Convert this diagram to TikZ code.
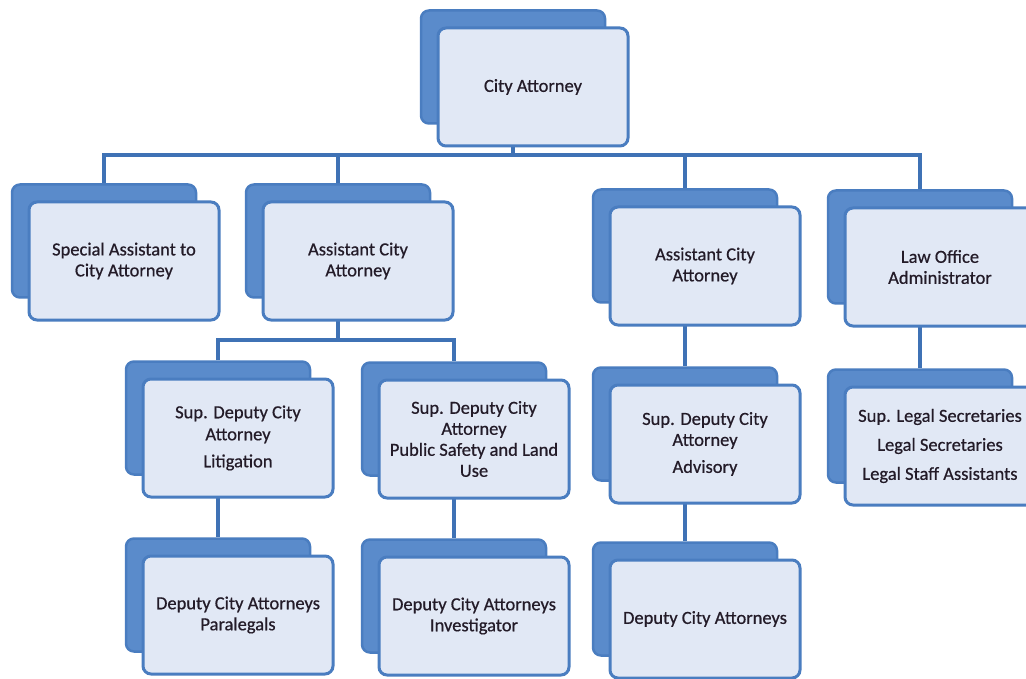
\documentclass[tikz,border=0pt]{standalone}
\usepackage{fontspec}
\setmainfont{Carlito}[FakeBold=0.6]
\usetikzlibrary{backgrounds}
\definecolor{backblue}{HTML}{5A8BCB}
\definecolor{edgeblue}{HTML}{4A7DC0}
\definecolor{frontfill}{HTML}{E1E8F5}
\definecolor{linkblue}{HTML}{3F72B5}
\definecolor{txt}{HTML}{231B28}
\begin{document}
\begin{tikzpicture}[x=1pt,y=-1pt,
  backbox/.style={draw=edgeblue, fill=backblue, line width=2.5pt, rounded corners=8pt,
    minimum width=184pt, minimum height=113pt, inner sep=0pt},
  frontbox/.style={draw=edgeblue, fill=frontfill, line width=3pt, rounded corners=8pt,
    minimum width=190pt, minimum height=118pt, align=center, text=txt,
    font=\fontsize{18.5}{21}\selectfont, inner sep=2pt},
  conn/.style={draw=linkblue, line width=3.3pt}]
\useasboundingbox (0,0) rectangle (1026,679);

% back boxes
\node[backbox] (CAb)   at (513,67) {};
\node[backbox] (SAb)   at (104,241) {};
\node[backbox] (ACA1b) at (338,241) {};
\node[backbox] (ACA2b) at (685,246) {};
\node[backbox] (LOAb)  at (920,247) {};
\node[backbox] (SDLb)  at (218,418) {};
\node[backbox] (SDPb)  at (454,419) {};
\node[backbox] (SDAb)  at (685,424) {};
\node[backbox] (SLSb)  at (920,426) {};
\node[backbox] (DCPb)  at (218,595) {};
\node[backbox] (DCIb)  at (454,596) {};
\node[backbox] (DCAb)  at (685,599) {};

% front boxes
\node[frontbox] (CA)   at (533,87)  {City Attorney};
\node[frontbox] (SA)   at (124,261) {Special Assistant to\\City Attorney};
\node[frontbox] (ACA1) at (358,261) {Assistant City\\Attorney};
\node[frontbox] (ACA2) at (705,266) {Assistant City\\Attorney};
\node[frontbox] (LOA)  at (940,267) {Law Office\\Administrator};
\node[frontbox] (SDL)  at (238,438) {Sup. Deputy City\\[1pt]Attorney\\[6pt]Litigation};
\node[frontbox] (SDP)  at (474,439) {Sup. Deputy City\\Attorney\\Public Safety and Land\\Use};
\node[frontbox] (SDA)  at (705,444) {Sup. Deputy City\\Attorney\\[6pt]Advisory};
\node[frontbox] (SLS)  at (940,446) {Sup. Legal Secretaries\\[8pt]Legal Secretaries\\[8pt]Legal Staff Assistants};
\node[frontbox] (DCP)  at (238,615) {Deputy City Attorneys\\Paralegals};
\node[frontbox] (DCI)  at (474,616) {Deputy City Attorneys\\Investigator};
\node[frontbox] (DCA)  at (705,619) {Deputy City Attorneys};

\coordinate (bus1) at (0,155);
\coordinate (bus2) at (0,340);

\begin{scope}[on background layer]
\fill[white] (0,0) rectangle (1026,679);
\draw[conn] (CAb.south) -- (CAb.south |- bus1);
\draw[conn] (SAb.north) |- (LOAb.north |- bus1) -- (LOAb.north);
\draw[conn] (ACA1b.north) -- (ACA1b.north |- bus1);
\draw[conn] (ACA2b.north) -- (ACA2b.north |- bus1);
\draw[conn] (ACA1b.south) -- (ACA1b.south |- bus2);
\draw[conn] (SDLb.north) |- (SDPb.north |- bus2) -- (SDPb.north);
\draw[conn] (ACA2b.south) -- (SDAb.north);
\draw[conn] (LOAb.south) -- (SLSb.north);
\draw[conn] (SDLb.south) -- (DCPb.north);
\draw[conn] (SDPb.south) -- (DCIb.north);
\draw[conn] (SDAb.south) -- (DCAb.north);
\end{scope}
\end{tikzpicture}
\end{document}
